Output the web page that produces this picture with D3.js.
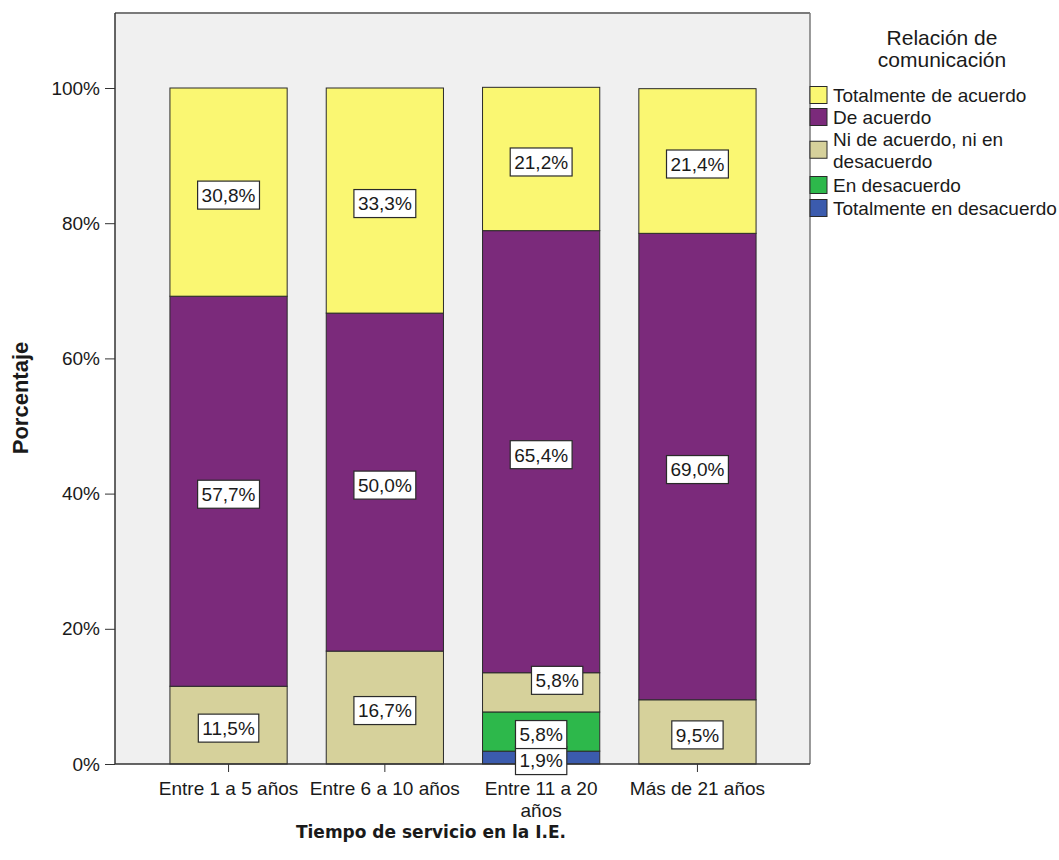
<!DOCTYPE html>
<html>
<head>
<meta charset="utf-8">
<script src="https://cdn.jsdelivr.net/npm/d3@7/dist/d3.min.js"></script>
<style>
  html, body { margin: 0; padding: 0; background: #ffffff; }
  svg { display: block; }
  text { font-family: "Liberation Sans", Arial, sans-serif; fill: #1a1a1a; }
</style>
</head>
<body>
<script>
// Tiempo de servicio vs relación de comunicación (percent stacked bars)
const categories = ["Entre 1 a 5 años", "Entre 6 a 10 años", "Entre 11 a 20 años", "Más de 21 años"];
const seriesNames = [
  "Totalmente en desacuerdo",
  "En desacuerdo",
  "Ni de acuerdo, ni en desacuerdo",
  "De acuerdo",
  "Totalmente de acuerdo"
];
const totalmenteEnDesacuerdo = [0, 0, 1.9, 0];
const enDesacuerdo = [0, 0, 5.8, 0];
const niDeAcuerdo = [11.5, 16.7, 5.8, 9.5];
const deAcuerdo = [57.7, 50.0, 65.4, 69.0];
const totalmenteDeAcuerdo = [30.8, 33.3, 21.2, 21.4];
const yTicks = [0, 20, 40, 60, 80, 100];
const seriesColors = ["#3b5bad", "#2db84b", "#d6d19b", "#7b2a7b", "#faf772"];
const legendTitle = ["Relación de", "comunicación"];
const xTitle = "Tiempo de servicio en la I.E.";
const yTitle = "Porcentaje";

const seriesValues = [totalmenteEnDesacuerdo, enDesacuerdo, niDeAcuerdo, deAcuerdo, totalmenteDeAcuerdo];
const rows = categories.map((c, i) => {
  const r = { cat: c };
  seriesNames.forEach((s, j) => { r[s] = seriesValues[j][i]; });
  return r;
});

const W = 1059, H = 860;
const plot = { left: 115, right: 810, top: 13, bottom: 764 };
const lineGap = 21.5;

const svg = d3.select("body").append("svg").attr("width", W).attr("height", H);

const x = d3.scaleBand().domain(categories).range([150.4, 775.6]).paddingInner(0.25).paddingOuter(0.125);
const y = d3.scaleLinear().domain([0, 100]).range([764, 88]);
const color = d3.scaleOrdinal().domain(seriesNames).range(seriesColors);

// plot background and frame
svg.append("rect")
  .attr("x", plot.left).attr("y", plot.top)
  .attr("width", plot.right - plot.left).attr("height", plot.bottom - plot.top)
  .attr("fill", "#f0f0f0");
svg.append("line").attr("x1", plot.left).attr("x2", plot.right).attr("y1", plot.top).attr("y2", plot.top)
  .attr("stroke", "#7a7a7a").attr("stroke-width", 2);
svg.append("line").attr("x1", plot.right).attr("x2", plot.right).attr("y1", plot.top).attr("y2", plot.bottom)
  .attr("stroke", "#7a7a7a").attr("stroke-width", 1.5);

// stacked bars
const stacked = d3.stack().keys(seriesNames)(rows);
const layers = svg.append("g").selectAll("g").data(stacked).join("g")
  .attr("fill", d => color(d.key));
layers.selectAll("rect").data(d => d.filter(p => p[1] - p[0] > 0)).join("rect")
  .attr("x", d => x(d.data.cat))
  .attr("width", x.bandwidth())
  .attr("y", d => y(d[1]))
  .attr("height", d => y(d[0]) - y(d[1]))
  .attr("stroke", "#2a2a2a").attr("stroke-width", 1);

// y axis
const yAxis = d3.axisLeft(y).tickValues(yTicks).tickSize(10).tickPadding(5).tickFormat(d => d + "%");
const gy = svg.append("g").attr("transform", `translate(${plot.left},0)`).call(yAxis);
gy.select(".domain").remove();
gy.selectAll(".tick line").attr("stroke", "#333");
gy.selectAll(".tick text").attr("font-size", 19).attr("font-family", "Liberation Sans, Arial, sans-serif").attr("fill", "#1a1a1a");
svg.append("line").attr("x1", plot.left).attr("x2", plot.left).attr("y1", plot.top).attr("y2", plot.bottom)
  .attr("stroke", "#333").attr("stroke-width", 1.5);

// x axis
const xAxis = d3.axisBottom(x).tickSize(8).tickPadding(10);
const gx = svg.append("g").attr("transform", `translate(0,${plot.bottom})`).call(xAxis);
gx.select(".domain").remove();
gx.selectAll(".tick line").attr("stroke", "#333");
svg.append("line").attr("x1", plot.left).attr("x2", plot.right).attr("y1", plot.bottom).attr("y2", plot.bottom)
  .attr("stroke", "#333").attr("stroke-width", 1.5);
gx.selectAll(".tick text")
  .attr("font-size", 19).attr("font-family", "Liberation Sans, Arial, sans-serif").attr("fill", "#1a1a1a")
  .each(function () {
    const t = d3.select(this);
    const words = t.text().split(/\s+/);
    const yy = +t.attr("y");
    const baseDy = 0.71 * 19;
    t.text(null).attr("dy", null);
    let line = [];
    let n = 0;
    let ts = t.append("tspan").attr("x", 0).attr("y", yy + baseDy);
    words.forEach(w => {
      line.push(w);
      ts.text(line.join(" "));
      if (ts.node().getComputedTextLength() > 155 && line.length > 1) {
        line.pop();
        ts.text(line.join(" "));
        line = [w];
        n++;
        ts = t.append("tspan").attr("x", 0).attr("y", yy + baseDy + n * lineGap).text(w);
      }
    });
  });

// axis titles
svg.append("text")
  .attr("x", 431).attr("y", 838)
  .attr("text-anchor", "middle")
  .style("font-family", "DejaVu Sans, Verdana, sans-serif")
  .attr("font-weight", "bold").attr("font-size", 17)
  .text(xTitle);
svg.append("text")
  .attr("transform", "translate(28,398) rotate(-90)")
  .attr("text-anchor", "middle")
  .attr("font-weight", "bold").attr("font-size", 22)
  .text(yTitle);

// value labels
const labelNudge = { "Entre 11 a 20 años|Ni de acuerdo, ni en desacuerdo": [16, -15] };
const labels = svg.append("g");
stacked.forEach(layer => {
  layer.forEach(p => {
    const v = p[1] - p[0];
    if (v <= 0) return;
    const key = p.data.cat + "|" + layer.key;
    const nudge = labelNudge[key] || [0, 0];
    const cx = x(p.data.cat) + x.bandwidth() / 2 + nudge[0];
    const cy = (y(p[0]) + y(p[1])) / 2 + 3 + nudge[1];
    const g = labels.append("g").attr("transform", `translate(${cx},${cy})`);
    const rect = g.append("rect").attr("fill", "#ffffff").attr("stroke", "#2a2a2a").attr("stroke-width", 1.2);
    const t = g.append("text").attr("text-anchor", "middle").attr("dy", "0.36em")
      .attr("font-size", 19).text(d3.format(".1f")(v).replace(".", ",") + "%");
    const w = t.node().getComputedTextLength() + 8;
    const h = 28;
    rect.attr("x", -w / 2).attr("y", -h / 2).attr("width", w).attr("height", h);
  });
});

// legend
const lg = svg.append("g");
lg.selectAll("text.title").data(legendTitle).join("text")
  .attr("class", "title")
  .attr("x", 942).attr("y", (d, i) => 45 + i * 22)
  .attr("text-anchor", "middle").attr("font-size", 21).attr("fill", "#2a2a2a")
  .text(d => d);

const legendOrder = seriesNames.slice().reverse();
const legendLines = {
  "Ni de acuerdo, ni en desacuerdo": ["Ni de acuerdo, ni en", "desacuerdo"]
};
const legendBaselines = [102, 124, 146, 192, 215];
legendOrder.forEach((name, k) => {
  const lines = legendLines[name] || [name];
  const ly = legendBaselines[k];
  const blockMid = ly - 7 + (lines.length - 1) * lineGap / 2;
  lg.append("rect")
    .attr("x", 810).attr("y", blockMid - 8.5)
    .attr("width", 17).attr("height", 17)
    .attr("fill", color(name)).attr("stroke", "#2a2a2a").attr("stroke-width", 1);
  lines.forEach((ln, i) => {
    lg.append("text").attr("x", 833).attr("y", ly + i * lineGap)
      .attr("font-size", 19).text(ln);
  });
});
</script>
</body>
</html>
